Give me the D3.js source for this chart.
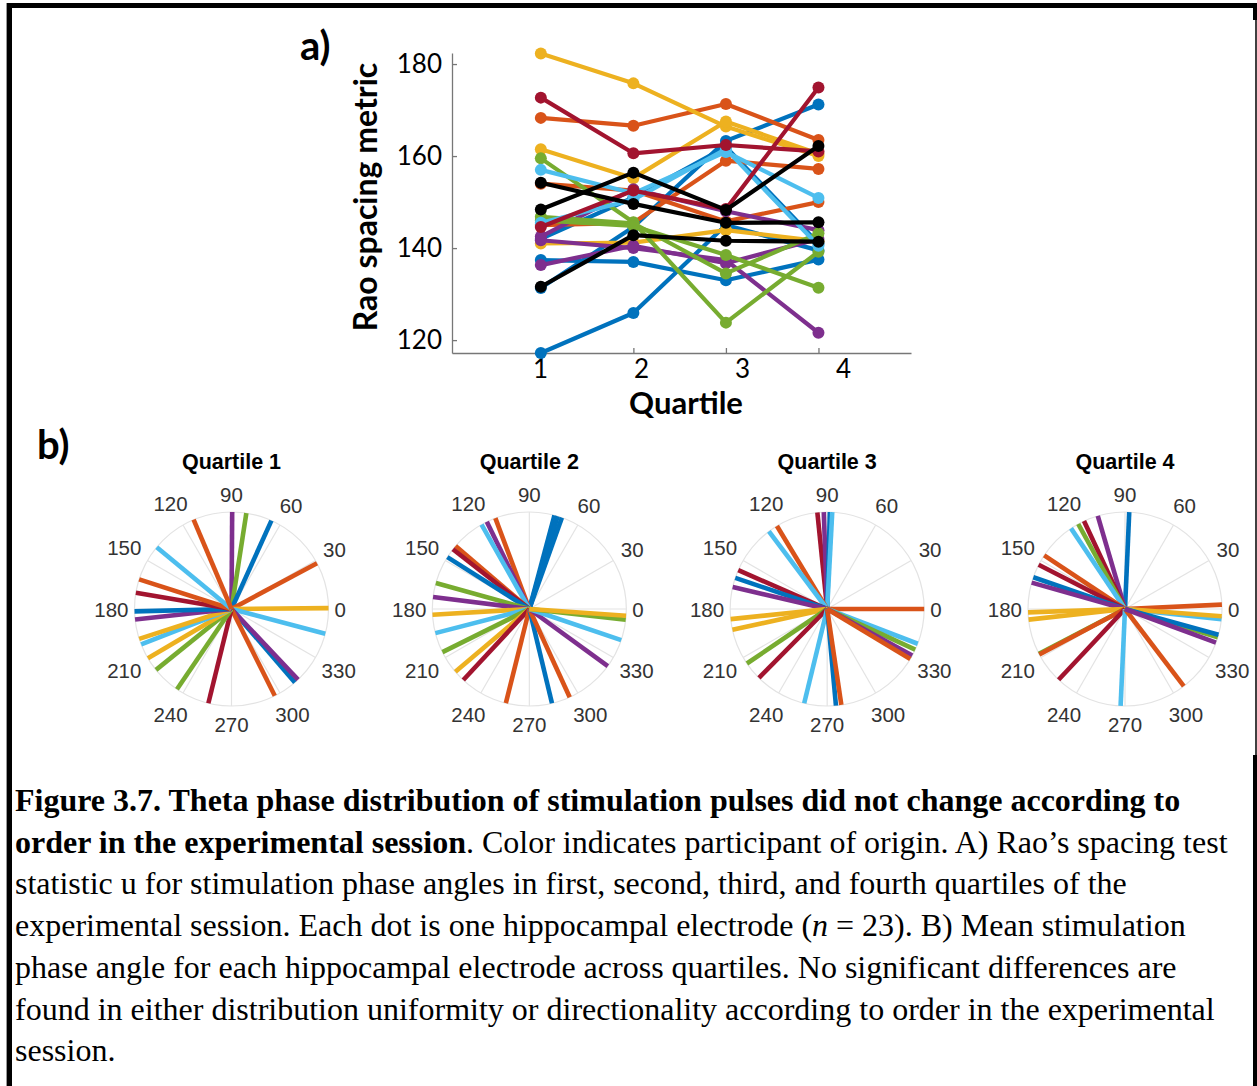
<!DOCTYPE html>
<html>
<head>
<meta charset="utf-8">
<script src="https://cdn.jsdelivr.net/npm/d3@7"></script>
<style>
  body { margin: 0; background: #fff; }
  svg { display: block; }
</style>
</head>
<body>
<script>
// ---------- data ----------
const quartiles = [1, 2, 3, 4];
const yTicks = [120, 140, 160, 180];
const angleTicks = [0, 30, 60, 90, 120, 150, 180, 210, 240, 270, 300, 330];

// Rao spacing metric per electrode (Q1..Q4); group = participant colour code
const raoGroup = ["b", "b", "b", "b", "o", "o", "o", "y", "y", "y", "p", "p", "p",
                  "g", "g", "g", "c", "c", "r", "r", "k", "k", "k"];
const raoValues = [
  [117.2, 125.9, 145.0, 139.5],
  [131.3, 144.6, 163.3, 171.2],
  [137.4, 137.0, 133.0, 137.5],
  [142.0, 151.0, 162.0, 141.0],
  [168.3, 166.6, 171.3, 163.5],
  [154.0, 152.5, 145.8, 150.0],
  [145.0, 145.5, 159.0, 157.2],
  [182.3, 175.8, 166.4, 160.0],
  [161.5, 155.2, 167.5, 160.5],
  [141.0, 141.2, 143.9, 141.5],
  [142.5, 152.8, 148.0, 143.9],
  [141.7, 140.0, 137.4, 121.6],
  [136.3, 140.5, 136.7, 142.0],
  [159.5, 145.6, 123.8, 139.2],
  [146.8, 145.4, 134.5, 143.2],
  [146.0, 144.8, 138.5, 131.4],
  [157.0, 151.9, 160.9, 150.9],
  [145.5, 150.5, 161.5, 140.5],
  [172.7, 160.6, 162.4, 161.0],
  [144.6, 152.5, 148.5, 174.9],
  [148.4, 156.4, 148.3, 162.2],
  [154.2, 149.6, 145.5, 145.6],
  [131.6, 142.8, 141.6, 141.4]
];

// mean stimulation phase angle (deg) per electrode, per quartile
const phaseQ1 = [89.6, 81.2, 65.7, 28.2, 0.5, 345.2, 310.8, 313.3, 296.5, 256.2, 235.8,
                 218.9, 210.5, 201.4, 197.9, 186.2, 181.4, 170.3, 162.2, 140.4, 113.0];
const groupQ1 = ["p", "g", "b", "o", "y", "c", "b", "p", "o", "r", "g",
                 "g", "y", "c", "y", "p", "b", "r", "o", "c", "o"];
const phaseQ2 = [75.0, 73.0, 70.4, 110.5, 116.0, 119.5, 139.5, 142.0, 147.7, 164.5, 172.9, 183.4,
                 194.4, 206.4, 220.3, 227.1, 256.0, 283.5, 294.6, 324.0, 341.3, 353.6, 356.0];
const groupQ2 = ["b", "b", "b", "o", "p", "c", "o", "r", "b", "g", "p", "y",
                 "c", "g", "y", "r", "o", "b", "o", "p", "c", "g", "y"];
const phaseQ3 = [95.8, 92.0, 88.4, 87.0, 121.2, 126.9, 156.4, 161.3, 166.9, 186.0, 192.4,
                 214.2, 225.3, 256.3, 275.2, 278.4, 0.0, 339.0, 335.2, 331.3, 329.0];
const groupQ3 = ["r", "p", "b", "c", "o", "c", "r", "b", "p", "y", "y",
                 "g", "r", "c", "b", "o", "o", "c", "g", "p", "o"];
const phaseQ4 = [87.5, 106.3, 115.0, 118.8, 123.8, 146.4, 152.9, 160.9, 164.2, 182.0, 186.3,
                 207.5, 208.0, 226.8, 267.4, 307.3, 2.6, 354.0, 355.7, 343.1, 344.6, 339.7];
const groupQ4 = ["b", "p", "r", "g", "c", "o", "r", "b", "p", "y", "y",
                 "g", "o", "r", "c", "o", "o", "c", "y", "g", "b", "p"];

const phaseSets = [phaseQ1, phaseQ2, phaseQ3, phaseQ4];
const groupSets = [groupQ1, groupQ2, groupQ3, groupQ4];

// ---------- styles ----------
const color = d3.scaleOrdinal()
  .domain(["b", "o", "y", "p", "g", "c", "r", "k"])
  .range(["#0072BD", "#D95319", "#EDB120", "#7E2F8E", "#77AC30", "#4DBEEE", "#A2142F", "#000000"]);
const sans = "Lato, 'Open Sans', sans-serif";
const arial = "'Liberation Sans', Arial, sans-serif";
const serif = "'Liberation Serif', 'Times New Roman', serif";

const svg = d3.select("body").append("svg")
    .attr("width", 1257)
    .attr("height", 1086);

// page frame
svg.append("line").attr("x1", 6.5).attr("x2", 6.5).attr("y1", 3).attr("y2", 1086)
    .attr("stroke", "#999").attr("stroke-width", 1);
svg.append("rect").attr("x", 7).attr("y", 3).attr("width", 1250).attr("height", 5).attr("fill", "#000");
svg.append("rect").attr("x", 7).attr("y", 3).attr("width", 5).attr("height", 1083).attr("fill", "#000");
svg.append("rect").attr("x", 1253).attr("y", 3).attr("width", 4).attr("height", 17).attr("fill", "#000");
svg.append("line").attr("x1", 1256).attr("x2", 1256).attr("y1", 20).attr("y2", 755)
    .attr("stroke", "#000").attr("stroke-width", 1.5);
svg.append("rect").attr("x", 1253).attr("y", 755).attr("width", 4).attr("height", 331).attr("fill", "#000");

// ---------- a) line chart ----------
const x = d3.scaleLinear().domain([0.04, 5]).range([452, 911]);
const y = d3.scaleLinear().domain([117.2, 182.4]).range([353, 53]);
const xLabelPos = d3.scaleLinear().domain([1, 4]).range([540, 843]);

const gy = svg.append("g")
    .attr("transform", "translate(452,0)")
    .call(d3.axisLeft(y).tickValues(yTicks).tickSize(-5).tickSizeOuter(0).tickPadding(10));
const gx = svg.append("g")
    .attr("transform", "translate(0,353)")
    .call(d3.axisBottom(x).tickValues(quartiles).tickFormat(d3.format("d"))
      .tickSize(-5).tickSizeOuter(0).tickPadding(7));
gx.selectAll(".tick text").attr("x", d => xLabelPos(d) - x(d));

[gx, gy].forEach(g => {
  g.select(".domain").attr("stroke", "#777").attr("stroke-width", 1.3);
  g.selectAll(".tick line").attr("stroke", "#777").attr("stroke-width", 1.3);
  g.selectAll(".tick text").attr("fill", "#000").style("font-family", sans).style("font-size", "26px");
});

const line = d3.line()
    .x((d, i) => x(quartiles[i]))
    .y(d => y(d));

raoValues.forEach((vals, k) => {
  const g = svg.append("g").attr("fill", color(raoGroup[k])).attr("stroke", color(raoGroup[k]));
  g.append("path")
      .attr("d", line(vals))
      .attr("fill", "none")
      .attr("stroke-width", 4.2)
      .attr("stroke-linejoin", "round");
  g.selectAll("circle")
    .data(vals)
    .join("circle")
      .attr("cx", (d, i) => x(quartiles[i]))
      .attr("cy", d => y(d))
      .attr("r", 6)
      .attr("stroke", "none");
});

svg.append("text")
    .attr("transform", "translate(377,197) rotate(-90)")
    .attr("text-anchor", "middle")
    .style("font-family", sans).style("font-weight", "bold").style("font-size", "32px")
    .text("Rao spacing metric");
svg.append("text")
    .attr("x", 686).attr("y", 414)
    .attr("text-anchor", "middle")
    .style("font-family", sans).style("font-weight", "bold").style("font-size", "31px")
    .text("Quartile");

svg.append("text").attr("x", 300).attr("y", 60)
    .style("font-family", sans).style("font-weight", "bold").style("font-size", "40px")
    .text("a)");
svg.append("text").attr("x", 37).attr("y", 459)
    .style("font-family", sans).style("font-weight", "bold").style("font-size", "40px")
    .text("b)");

// ---------- b) compass plots ----------
const R = 97;
const cxScale = d3.scaleLinear().domain([1, 4]).range([231.5, 1125]);
const cy = 609;
const angle = d3.scaleLinear().domain([0, 360]).range([Math.PI / 2, Math.PI / 2 - 2 * Math.PI]);
const radius = d3.scaleLinear().domain([0, 1]).range([0, R]);
const ray = d3.lineRadial().angle(d => angle(d[0])).radius(d => radius(d[1]));

quartiles.forEach((q, qi) => {
  const g = svg.append("g").attr("transform", `translate(${cxScale(q)},${cy})`);

  g.append("circle").attr("r", R).attr("fill", "none").attr("stroke", "#e3e3e3").attr("stroke-width", 1.2);
  g.selectAll(".spoke")
    .data(angleTicks)
    .join("path")
      .attr("class", "spoke")
      .attr("d", a => ray([[a, 0], [a, 1]]))
      .attr("stroke", "#e3e3e3")
      .attr("stroke-width", 1.2);

  g.selectAll(".ray")
    .data(phaseSets[qi])
    .join("path")
      .attr("class", "ray")
      .attr("d", a => ray([[a, 0], [a, 1]]))
      .attr("stroke", (a, i) => color(groupSets[qi][i]))
      .attr("stroke-width", 4.6)
      .attr("fill", "none");

  g.selectAll(".alab")
    .data(angleTicks)
    .join("text")
      .attr("class", "alab")
      .attr("text-anchor", "middle")
      .attr("dominant-baseline", "central")
      .attr("fill", "#333")
      .style("font-family", arial)
      .style("font-size", "20.5px")
      .text(a => a)
      .each(function(a) {
        const w = this.getComputedTextLength();
        const t = a * Math.PI / 180;
        const c = Math.cos(t), s = Math.sin(t);
        const d = R + 6 + (w / 2) * Math.abs(c) + 12 * Math.abs(s);
        d3.select(this).attr("x", d * c).attr("y", -d * s);
      });

  g.append("text")
      .attr("y", -140)
      .attr("text-anchor", "middle")
      .style("font-family", arial).style("font-weight", "bold").style("font-size", "21.5px")
      .text("Quartile " + q);
});

// ---------- caption ----------
const cap = svg.append("g")
    .style("font-family", serif)
    .style("font-size", "32px")
    .attr("fill", "#000");
const capX = 15, capY0 = 811, capDy = 41.7;
const capLines = [
  [["b", "Figure 3.7. Theta phase distribution of stimulation pulses did not change according to"]],
  [["b", "order in the experimental session"], ["n", ". Color indicates participant of origin. A) Rao\u2019s spacing test"]],
  [["n", "statistic u for stimulation phase angles in first, second, third, and fourth quartiles of the"]],
  [["n", "experimental session. Each dot is one hippocampal electrode ("], ["i", "n"], ["n", " = 23). B) Mean stimulation"]],
  [["n", "phase angle for each hippocampal electrode across quartiles. No significant differences are"]],
  [["n", "found in either distribution uniformity or directionality according to order in the experimental"]],
  [["n", "session."]]
];
capLines.forEach((parts, i) => {
  const t = cap.append("text").attr("x", capX).attr("y", capY0 + i * capDy);
  parts.forEach(([st, s]) => {
    t.append("tspan")
      .style("font-weight", st === "b" ? "bold" : "normal")
      .style("font-style", st === "i" ? "italic" : "normal")
      .text(s);
  });
});
</script>
</body>
</html>
